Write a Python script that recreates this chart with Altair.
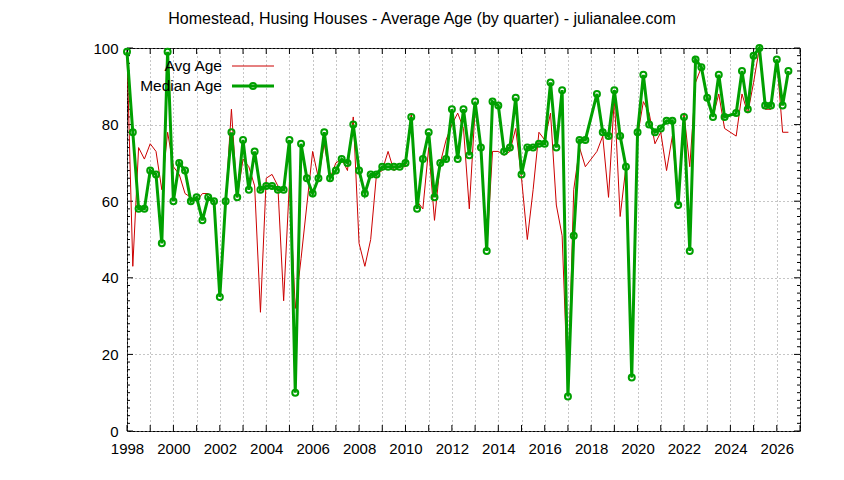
import altair as alt
import pandas as pd

TITLE = "Homestead, Husing Houses - Average Age (by quarter) - julianalee.com"
LEGEND = ["Avg Age", "Median Age"]

# quarter positions (decimal years); 2018.0 and 2024.0 have no data
QUARTER = [
    1998.0, 1998.25, 1998.5, 1998.75,
    1999.0, 1999.25, 1999.5, 1999.75,
    2000.0, 2000.25, 2000.5, 2000.75,
    2001.0, 2001.25, 2001.5, 2001.75,
    2002.0, 2002.25, 2002.5, 2002.75,
    2003.0, 2003.25, 2003.5, 2003.75,
    2004.0, 2004.25, 2004.5, 2004.75,
    2005.0, 2005.25, 2005.5, 2005.75,
    2006.0, 2006.25, 2006.5, 2006.75,
    2007.0, 2007.25, 2007.5, 2007.75,
    2008.0, 2008.25, 2008.5, 2008.75,
    2009.0, 2009.25, 2009.5, 2009.75,
    2010.0, 2010.25, 2010.5, 2010.75,
    2011.0, 2011.25, 2011.5, 2011.75,
    2012.0, 2012.25, 2012.5, 2012.75,
    2013.0, 2013.25, 2013.5, 2013.75,
    2014.0, 2014.25, 2014.5, 2014.75,
    2015.0, 2015.25, 2015.5, 2015.75,
    2016.0, 2016.25, 2016.5, 2016.75,
    2017.0, 2017.25, 2017.5, 2017.75,
    2018.25, 2018.5, 2018.75,
    2019.0, 2019.25, 2019.5, 2019.75,
    2020.0, 2020.25, 2020.5, 2020.75,
    2021.0, 2021.25, 2021.5, 2021.75,
    2022.0, 2022.25, 2022.5, 2022.75,
    2023.0, 2023.25, 2023.5, 2023.75,
    2024.25, 2024.5, 2024.75,
    2025.0, 2025.25, 2025.5, 2025.75,
    2026.0, 2026.25, 2026.5,
]

AVG_AGE = [
    99, 43, 74, 71,
    75, 73, 63, 78,
    69, 67, 62, 61,
    60, 62, 62, 60,
    35, 60, 84, 61,
    71, 69, 64, 31,
    66, 67, 64, 34,
    65, 32, 45, 59,
    73, 66, 75, 66,
    70, 71, 68, 82,
    49, 43, 50, 67,
    68, 73, 68, 69,
    69, 83, 60, 58,
    74, 55, 70, 76,
    80, 83, 79, 58,
    84, 74, 47, 73,
    73, 72, 73, 79,
    66, 50, 63, 78,
    76, 83, 59, 51,
    10, 63, 74, 69,
    73, 77, 61,
    87, 56, 69, 14,
    77, 86, 83, 75,
    78, 68, 77, 59,
    83, 69, 91, 95,
    87, 82, 88, 79,
    77, 88, 83,
    91, 100, 84, 84,
    97, 78, 78,
]

MEDIAN_AGE = [
    99, 78, 58, 58,
    68, 67, 49, 99,
    60, 70, 68, 60,
    61, 55, 61, 60,
    35, 60, 78, 61,
    76, 63, 73, 63,
    64, 64, 63, 63,
    76, 10, 75, 66,
    62, 66, 78, 66,
    68, 71, 70, 80,
    68, 62, 67, 67,
    69, 69, 69, 69,
    70, 82, 58, 71,
    78, 61, 70, 71,
    84, 71, 84, 72,
    86, 74, 47, 86,
    85, 73, 74, 87,
    67, 74, 74, 75,
    75, 91, 74, 89,
    9, 51, 76, 76,
    88, 78, 77,
    89, 77, 69, 14,
    78, 93, 80, 78,
    79, 81, 81, 59,
    82, 47, 97, 95,
    87, 82, 93, 82,
    83, 94, 84,
    98, 100, 85, 85,
    97, 85, 94,
]

YEARS = list(range(1998, 2028))
Y_MAJOR = [0, 20, 40, 60, 80, 100]
Y_MINOR = [v for v in range(0, 101, 2) if v % 20 != 0]

W, H = 673, 383
FONT = "Liberation Sans"
RED = "#cc0000"
GREEN = "#00a000"

df = pd.DataFrame({"q": QUARTER, "avg": AVG_AGE, "med": MEDIAN_AGE})

xscale = alt.Scale(domain=[1998, 2027], nice=False, zero=False)
yscale = alt.Scale(domain=[0, 100], nice=False, zero=True)

XAXIS = alt.Axis(
    values=YEARS, format="d",
    labelExpr="datum.value % 2 == 0 ? datum.label : ''",
    grid=True, gridDash=[1, 3], gridColor="#8c8c8c", gridWidth=1,
    ticks=False, domain=False, labelPadding=10, labelFontSize=15,
    labelFont=FONT, labelColor="black", title=None,
    labelFlush=False, labelOverlap=False,
)
YAXIS = alt.Axis(
    values=Y_MAJOR, format="d",
    grid=True, gridDash=[1, 3], gridColor="#8c8c8c", gridWidth=1,
    ticks=False, domain=False, labelPadding=9, labelFontSize=15,
    labelFont=FONT, labelColor="black", title=None,
)

X = lambda f: alt.X(f, type="quantitative", scale=xscale, axis=XAXIS)
Y = lambda f: alt.Y(f, type="quantitative", scale=yscale, axis=YAXIS)

years_df = pd.DataFrame({"yr": YEARS})
ymaj_df = pd.DataFrame({"v": Y_MAJOR})
ymin_df = pd.DataFrame({"v": Y_MINOR})

xt_bot = alt.Chart(years_df).mark_rule(color="black", strokeWidth=1).encode(
    x=X("yr"), y=alt.value(H), y2=alt.value(H - 6))
xt_top = alt.Chart(years_df).mark_rule(color="black", strokeWidth=1).encode(
    x=X("yr"), y=alt.value(0), y2=alt.value(6))
yt_l = alt.Chart(ymaj_df).mark_rule(color="black", strokeWidth=1).encode(
    y=Y("v"), x=alt.value(0), x2=alt.value(6))
yt_r = alt.Chart(ymaj_df).mark_rule(color="black", strokeWidth=1).encode(
    y=Y("v"), x=alt.value(W), x2=alt.value(W - 6))
ym_l = alt.Chart(ymin_df).mark_rule(color="black", strokeWidth=1).encode(
    y=Y("v"), x=alt.value(0), x2=alt.value(3))
ym_r = alt.Chart(ymin_df).mark_rule(color="black", strokeWidth=1).encode(
    y=Y("v"), x=alt.value(W), x2=alt.value(W - 3))

avg_line = alt.Chart(df).mark_line(color=RED, strokeWidth=1).encode(
    x=X("q"), y=Y("avg"), order="q:Q")
med_line = alt.Chart(df).mark_line(
    color=GREEN, strokeWidth=3,
    point=alt.OverlayMarkDef(filled=False, color=GREEN, size=36, strokeWidth=2, shape="circle"),
).encode(x=X("q"), y=Y("med"), order="q:Q")

leg_avg_df = pd.DataFrame({"t": [LEGEND[0]]})
leg_med_df = pd.DataFrame({"t": [LEGEND[1]]})
title_df = pd.DataFrame({"t": [TITLE]})

leg_avg_text = alt.Chart(leg_avg_df).mark_text(
    align="right", baseline="middle", fontSize=15.5, font=FONT, color="black"
).encode(text="t:N", x=alt.value(95), y=alt.value(18))
leg_avg_line = alt.Chart(leg_avg_df).mark_rule(color=RED, strokeWidth=1).encode(
    x=alt.value(105), x2=alt.value(147), y=alt.value(18))
leg_med_text = alt.Chart(leg_med_df).mark_text(
    align="right", baseline="middle", fontSize=15.5, font=FONT, color="black"
).encode(text="t:N", x=alt.value(95), y=alt.value(38))
leg_med_line = alt.Chart(leg_med_df).mark_rule(color=GREEN, strokeWidth=3).encode(
    x=alt.value(105), x2=alt.value(147), y=alt.value(38))
leg_med_pt = alt.Chart(leg_med_df).mark_point(
    filled=False, color=GREEN, size=36, strokeWidth=2, shape="circle", opacity=1
).encode(x=alt.value(126), y=alt.value(38))

title = alt.Chart(title_df).mark_text(
    align="center", baseline="middle", fontSize=16, font=FONT, color="black"
).encode(text="t:N", x=alt.value(295), y=alt.value(-29))

chart = alt.layer(
    xt_bot, xt_top, yt_l, yt_r, ym_l, ym_r,
    avg_line, med_line,
    leg_avg_text, leg_avg_line, leg_med_text, leg_med_line, leg_med_pt,
    title,
).properties(
    width=W, height=H,
    autosize=alt.AutoSizeParams(type="none"),
    padding={"left": 119, "top": 40, "right": 36, "bottom": 41},
    background="white",
).configure_view(stroke="black", strokeWidth=1)

chart.save("out.html", embed_options={"renderer": "svg", "actions": False})
